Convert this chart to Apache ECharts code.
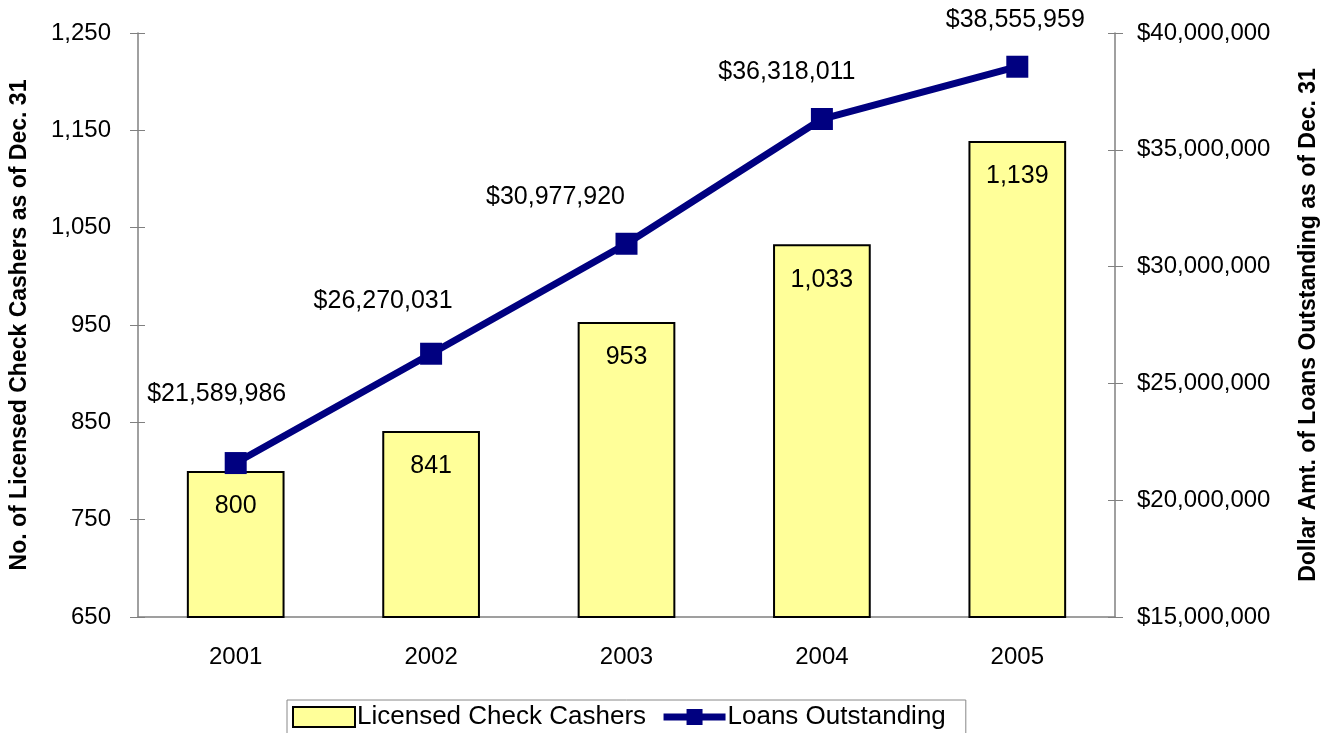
<!DOCTYPE html>
<html><head><meta charset="utf-8">
<script src="https://cdn.jsdelivr.net/npm/echarts@6/dist/echarts.min.js"></script>
<style>html,body{margin:0;padding:0;background:#fff}#c{width:1334px;height:733px}</style>
</head><body><div id="c"></div>
<script>
const years = ['2001','2002','2003','2004','2005'];
const checkCashers = [800, 841, 953, 1033, 1139];
const loansOutstanding = [21589986, 26270031, 30977920, 36318011, 38555959];
const barName = 'Licensed Check Cashers';
const lineName = 'Loans Outstanding';
const leftTitle = 'No. of Licensed Check Cashers as of Dec. 31';
const rightTitle = 'Dollar Amt. of Loans Outstanding as of Dec. 31';

const lineLabelShift = [[-19,-33],[-48,-17],[-71,-11],[-35,-11],[-2,-11]];
const FONT = 'Liberation Sans, Arial, sans-serif';
const fmt = v => v.toLocaleString('en-US');
const AX = '#808080';

const leftBase = {type: 'value', min: 650, max: 1250, interval: 100};
const rightBase = {type: 'value', min: 15000000, max: 40000000, interval: 5000000};

const chart = echarts.init(document.getElementById('c'));
chart.setOption({
  animation: false,
  textStyle: {fontFamily: FONT, color: '#000'},
  grid: {left: 137, right: 219, top: 33, bottom: 116},
  legend: {
    top: 700, left: 287, width: 678,
    padding: [4, 20, 12, 5],
    borderColor: '#888', borderWidth: 1,
    itemGap: 14, itemWidth: 62, itemHeight: 20,
    textStyle: {fontSize: 26, color: '#000', fontFamily: FONT, padding: [0, 0, 0, -3]},
    data: [
      {name: barName, icon: 'rect', itemStyle: {borderWidth: 2, borderColor: '#000'}},
      {name: lineName, lineStyle: {width: 7, color: '#000080'}}
    ]
  },
  xAxis: {
    type: 'category', data: years,
    axisLine: {lineStyle: {color: AX, width: 1.5}},
    axisTick: {show: false},
    axisLabel: {fontSize: 24, color: '#000', margin: 28}
  },
  yAxis: [
    Object.assign({}, leftBase, {
      name: leftTitle, nameLocation: 'middle', nameGap: 107, nameRotate: 90,
      nameTextStyle: {fontSize: 23, fontWeight: 'bold', color: '#000'},
      axisLine: {show: true, lineStyle: {color: AX, width: 1.5}},
      axisTick: {show: true, length: 8, lineStyle: {color: AX}},
      splitLine: {show: false},
      axisLabel: {fontSize: 24, color: '#000', margin: 27, formatter: v => fmt(v)}
    }),
    Object.assign({}, rightBase, {
      name: rightTitle, nameLocation: 'middle', nameGap: 182, nameRotate: 90,
      nameTextStyle: {fontSize: 23, fontWeight: 'bold', color: '#000'},
      axisLine: {show: true, lineStyle: {color: AX, width: 1.5}},
      axisTick: {show: true, length: 8, lineStyle: {color: AX}},
      splitLine: {show: false},
      axisLabel: {fontSize: 24, color: '#000', margin: 22, formatter: v => '$' + fmt(v)}
    }),
    Object.assign({}, leftBase, {
      position: 'left', axisLine: {show: false}, axisLabel: {show: false}, splitLine: {show: false},
      axisTick: {show: true, inside: true, length: 7, lineStyle: {color: AX}}
    }),
    Object.assign({}, rightBase, {
      position: 'right', axisLine: {show: false}, axisLabel: {show: false}, splitLine: {show: false},
      axisTick: {show: true, inside: true, length: 7, lineStyle: {color: AX}}
    })
  ],
  series: [
    {
      name: barName, type: 'bar', yAxisIndex: 0, data: checkCashers,
      barWidth: '50%',
      itemStyle: {color: '#FFFF99', borderColor: '#000', borderWidth: 2},
      label: {show: true, position: 'insideTop', distance: 23, fontSize: 25, color: '#000',
        formatter: p => fmt(p.value)}
    },
    {
      name: lineName, type: 'line', yAxisIndex: 1,
      data: loansOutstanding.map((v, i) => ({value: v, label: {offset: lineLabelShift[i]}})),
      symbol: 'rect', symbolSize: 22,
      lineStyle: {color: '#000080', width: 7},
      itemStyle: {color: '#000080'},
      label: {show: true, position: 'top', distance: 12, fontSize: 25, color: '#000',
        formatter: p => '$' + fmt(p.value)}
    }
  ]
});
</script></body></html>
